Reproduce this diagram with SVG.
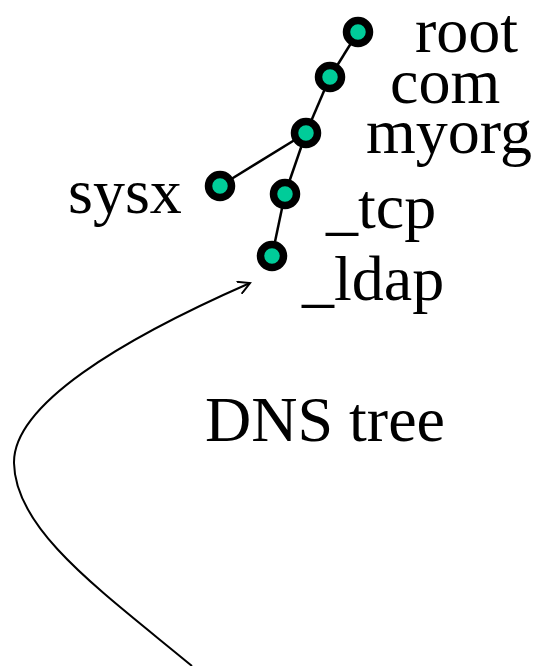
<svg xmlns="http://www.w3.org/2000/svg" width="533" height="666" viewBox="0 0 533 666">
<style>
.n{fill:#00cc99;stroke:#000;stroke-width:7.5}
.e{stroke:#000;stroke-width:2.5;fill:none}
.t{font-family:"Liberation Serif","Times New Roman",serif;font-size:64px;fill:#000}
</style>
<defs>
<marker id="ah" markerWidth="14" markerHeight="14" refX="12" refY="7" orient="auto" markerUnits="userSpaceOnUse" viewBox="0 0 14 14">
<polyline points="0,0.5 12,7 0,13.5" fill="none" stroke="#000" stroke-width="2"/>
</marker>
</defs>
<rect width="533" height="666" fill="#fff"/>
<g id="connectors">
<line class="e" x1="358" y1="32" x2="330" y2="77"/>
<line class="e" x1="330" y1="77" x2="306" y2="133"/>
<line class="e" x1="306" y1="133" x2="220" y2="186"/>
<line class="e" x1="306" y1="133" x2="285" y2="194"/>
<line class="e" x1="285" y1="194" x2="272" y2="256"/>
<path d="M192,666 C100,590 15,530 14,463 C13,405 120,340 250,283" fill="none" stroke="#000" stroke-width="2" marker-end="url(#ah)"/>
</g>
<g id="root"><circle class="n" cx="358" cy="32" r="11.5"/><text class="t" x="415" y="52">root</text></g>
<g id="com"><circle class="n" cx="330" cy="77" r="11.5"/><text class="t" x="390" y="103">com</text></g>
<g id="myorg"><circle class="n" cx="306" cy="133" r="11.5"/><text class="t" x="366" y="153">myorg</text></g>
<g id="sysx"><circle class="n" cx="220" cy="186" r="11.5"/><text class="t" x="68" y="213">sysx</text></g>
<g id="tcp"><circle class="n" cx="285" cy="194" r="11.5"/><text class="t" x="326" y="228">_tcp</text></g>
<g id="ldap"><circle class="n" cx="272" cy="256" r="11.5"/><text class="t" x="302" y="300">_ldap</text></g>
<g id="label"><text class="t" x="205" y="441">DNS tree</text></g>
</svg>
